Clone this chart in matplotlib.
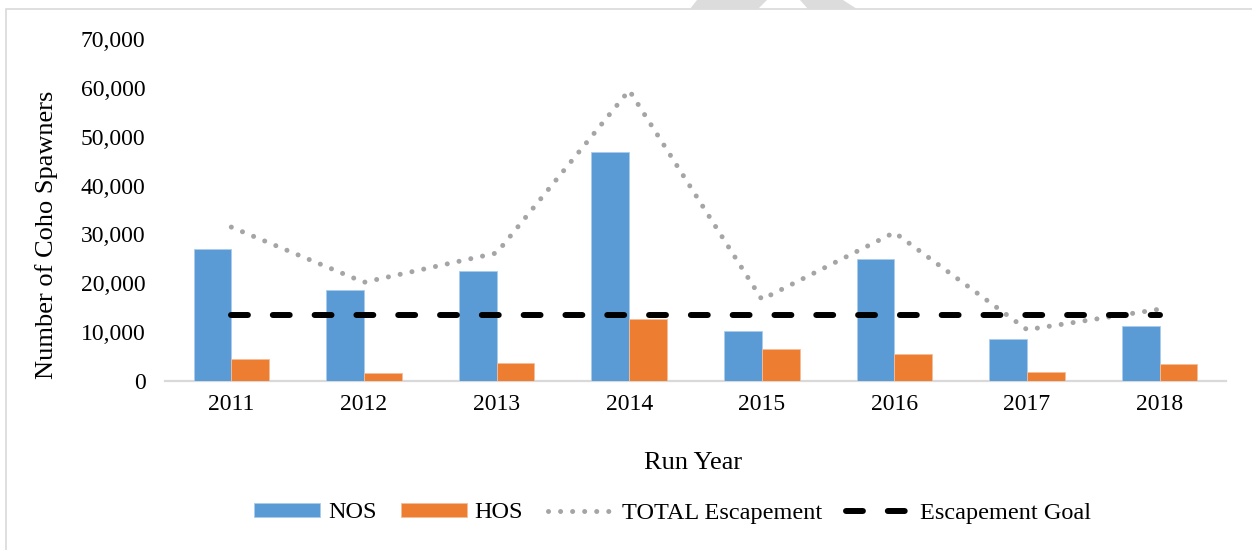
import matplotlib
matplotlib.use("Agg")
import matplotlib.pyplot as plt
from matplotlib.patches import Rectangle, Polygon
from matplotlib.ticker import FuncFormatter
import numpy as np

years = ["2011", "2012", "2013", "2014", "2015", "2016", "2017", "2018"]
nos = [27000, 18600, 22500, 46800, 10200, 24900, 8600, 11200]
hos = [4500, 1600, 3700, 12700, 6500, 5500, 1900, 3500]
total = [31500, 20200, 26200, 59500, 16700, 30400, 10500, 14700]
goal = [13500] * 8
yticks = [0, 10000, 20000, 30000, 40000, 50000, 60000, 70000]

W, H = 1252, 550
plt.rcParams['font.family'] = ['Liberation Serif', 'DejaVu Serif']
fig = plt.figure(figsize=(W / 100, H / 100), dpi=100)
ax = fig.add_axes([165 / W, 1 - 381 / H, 1061 / W, (381 - 39) / H])

x = np.arange(len(years))
bw = 0.285
b1 = ax.bar(x - bw / 2, nos, bw, color='#5B9BD5', edgecolor='#A9CCEC', linewidth=0.6, label='NOS', zorder=2)
b2 = ax.bar(x + bw / 2, hos, bw, color='#ED7D31', edgecolor='#F6BE98', linewidth=0.6, label='HOS', zorder=2)
l1, = ax.plot(x, total, color='#A5A5A5', lw=3.6, linestyle=(0, (0.01, 2.4)),
              dash_capstyle='round', label='TOTAL Escapement', zorder=3)
l2, = ax.plot(x, goal, color='black', lw=4.3, linestyle=(0, (2.83, 4.17)),
              dash_capstyle='round', label='Escapement Goal', zorder=4)

ax.set_xlim(-0.5, len(years) - 0.5)
ax.set_ylim(0, 70000)
ax.set_yticks(yticks)
ax.yaxis.set_major_formatter(FuncFormatter(lambda v, p: f"{int(v):,}"))
ax.set_xticks(x)
ax.set_xticklabels(years)
ax.tick_params(axis='y', length=0, pad=14, labelsize=17)
ax.tick_params(axis='x', length=0, pad=9, labelsize=17)
for s in ['top', 'right', 'left']:
    ax.spines[s].set_visible(False)
ax.spines['bottom'].set_color('#D9D9D9')
ax.spines['bottom'].set_linewidth(1.6)
ax.spines['bottom'].set_zorder(1)

fig.text(47 / W, 1 - 235 / H, 'Number of Coho Spawners', rotation=90,
         ha='center', va='center', fontsize=19)
fig.text(693 / W, 1 - 463 / H, 'Run Year', ha='center', va='center', fontsize=19)

fig.legend(handles=[b1, b2, l1, l2], loc='center', bbox_to_anchor=(672.5 / W, 1 - 513 / H), ncol=4,
           frameon=False, fontsize=17.5, handlelength=2.75, handleheight=0.5,
           handletextpad=0.3, columnspacing=1.0)

# chart frame
fig.add_artist(Rectangle((6 / W, -0.05), 1.2, 1 - 9 / H + 0.05, transform=fig.transFigure,
                         fill=False, edgecolor='#D9D9D9', linewidth=1.2))
# faint watermark fragment at top
fig.add_artist(Polygon([(697 / W, 1.0), (767 / W, 1.0), (758 / W, 1 - 9 / H), (690 / W, 1 - 9 / H)],
                       closed=True, transform=fig.transFigure, facecolor='#DCDCDC', edgecolor='none'))
fig.add_artist(Polygon([(800 / W, 1.0), (843 / W, 1.0), (857 / W, 1 - 9 / H), (808 / W, 1 - 9 / H)],
                       closed=True, transform=fig.transFigure, facecolor='#DCDCDC', edgecolor='none'))

fig.savefig('out.png', dpi=100)
